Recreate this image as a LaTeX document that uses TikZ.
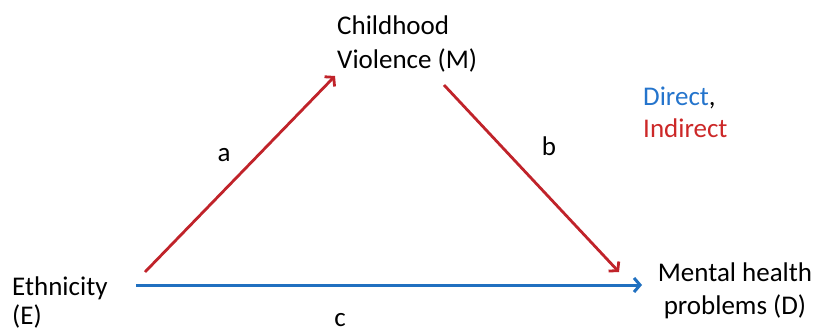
\documentclass[tikz,border=0pt]{standalone}
\usepackage{fontspec}
\setmainfont{Carlito}
\usetikzlibrary{arrows.meta}
\definecolor{pathR}{RGB}{192,35,42}
\definecolor{pathB}{RGB}{32,112,192}
\definecolor{txtB}{RGB}{36,116,204}
\definecolor{txtR}{RGB}{204,40,40}

\begin{document}
\begin{tikzpicture}[x=1pt,y=-1pt,>={Straight Barb[length=6pt,width=14pt]},
  var/.style={inner sep=0pt,font=\fontsize{27}{33}\selectfont},
  lbl/.style={inner sep=0pt,font=\fontsize{27}{33}\selectfont},
  ind/.style={->,line width=2.8pt,pathR},
  dir/.style={->,line width=3pt,pathB}]
\useasboundingbox (0,0) rectangle (814,332);
% variables
\node[var,anchor=north west,align=left,font=\fontsize{27}{34}\selectfont] (M) at (337,16) {Childhood\\Violence (M)};
\node[var,anchor=north west,align=left,font=\fontsize{27}{29}\selectfont] (E) at (12,277) {Ethnicity\\(E)};
\node[var,anchor=north,align=center] (D) at (735,263) {Mental health\\problems (D)};
\node[var,anchor=north west,align=left,font=\fontsize{27}{32}\selectfont] (key) at (643,87) {\textcolor{txtB}{Direct},\\\textcolor{txtR}{Indirect}};
% arrow ends
\coordinate (Ea) at (145,272); \coordinate (Ma) at (335,76);
\coordinate (Mb) at (444,85);  \coordinate (Db) at (619,272);
\coordinate (Ec) at (136,285); \coordinate (Dc) at (642,285);
\draw[ind] (Ea) -- (Ma);
\draw[ind] (Mb) -- (Db);
\draw[dir] (Ec) -- (Dc);
% path labels
\node[lbl] (la) at (224,155) {a};
\node[lbl] (lb) at (549,146) {b};
\node[lbl] (lc) at (340,320) {c};
\end{tikzpicture}
\end{document}
